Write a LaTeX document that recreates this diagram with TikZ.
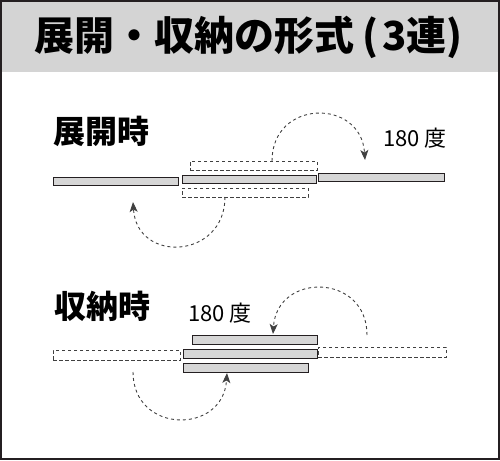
\documentclass[tikz,border=0pt]{standalone}
\usepackage{fontspec}
\setmainfont{Noto Sans CJK JP}
\usetikzlibrary{arrows.meta}
\newlength{\du}
\setlength{\du}{1pt}
\definecolor{framecolor}{rgb}{0.14, 0.12, 0.13}
\definecolor{bandcolor}{rgb}{0.83, 0.83, 0.83}
\definecolor{panelcolor}{rgb}{0.84, 0.84, 0.84}
\definecolor{dashcolor}{rgb}{0.25, 0.25, 0.25}
\tikzset{
  panel/.style={draw=framecolor, fill=panelcolor, line width=1pt, inner sep=0pt},
  ghost/.style={draw=dashcolor, line width=0.9pt, dash pattern=on 3.5pt off 2.5pt, inner sep=0pt},
  turn/.style={draw=dashcolor, line width=0.9pt, dash pattern=on 3pt off 3pt, -{Stealth[length=10pt, width=8pt, inset=2.5pt]}},
  headline/.style={font=\bfseries\fontsize{40pt}{42pt}\selectfont, inner sep=0pt},
  caption/.style={font=\bfseries\fontsize{32pt}{34pt}\selectfont},
  degree/.style={font=\fontsize{22pt}{24pt}\selectfont},
}
\begin{document}
\begin{tikzpicture}
\useasboundingbox (0\du,0\du) rectangle (500\du,-460\du);
% title band and frame
\fill[bandcolor] (0\du,0\du) rectangle (500\du,-72\du);
\draw[framecolor, line width=1.6pt] (0.8\du,-0.8\du) rectangle (499.2\du,-459.2\du);
\node[headline, anchor=west] (title) at (34\du,-37\du) {展開・収納の形式\hspace{0.2em}(\hspace{0.1em}3連)};
% deployed
\node[caption] (opencap) at (101\du,-131\du) {展開時};
\node[degree] (opendeg) at (415\du,-138\du) {180\hspace{0.2em}度};
\node[panel, minimum width=125\du, minimum height=8\du] (openL) at (115.5\du,-181\du) {};
\node[panel, minimum width=134\du, minimum height=8\du] (openM) at (249\du,-179\du) {};
\node[panel, minimum width=126\du, minimum height=8\du] (openR) at (381\du,-177\du) {};
\node[ghost, minimum width=127\du, minimum height=9\du] (openUp) at (253.5\du,-165.5\du) {};
\node[ghost, minimum width=126\du, minimum height=9\du] (openDn) at (245\du,-192.5\du) {};
\coordinate (openUpFrom) at (272\du,-161\du);
\coordinate (openUpTo) at (365\du,-160\du);
\coordinate (openDnFrom) at (225\du,-197\du);
\coordinate (openDnTo) at (133\du,-202\du);
\draw[turn] (openUpFrom) .. controls +(0pt,62pt) and +(-4pt,62pt) .. (openUpTo);
\draw[turn] (openDnFrom) .. controls +(0pt,-62pt) and +(4pt,-62pt) .. (openDnTo);
% stowed
\node[caption] (shutcap) at (102\du,-306\du) {収納時};
\node[degree] (shutdeg) at (220\du,-313\du) {180\hspace{0.2em}度};
\node[panel, minimum width=125\du, minimum height=9\du] (shutT) at (254.5\du,-339.5\du) {};
\node[panel, minimum width=134\du, minimum height=9\du] (shutM) at (250\du,-353.5\du) {};
\node[panel, minimum width=125\du, minimum height=9\du] (shutB) at (245.5\du,-367.5\du) {};
\node[ghost, minimum width=127\du, minimum height=10\du] (shutL) at (116.5\du,-355\du) {};
\node[ghost, minimum width=128\du, minimum height=10\du] (shutR) at (382\du,-352\du) {};
\coordinate (shutUpFrom) at (367\du,-335\du);
\coordinate (shutUpTo) at (273\du,-334\du);
\coordinate (shutDnFrom) at (133\du,-372\du);
\coordinate (shutDnTo) at (227\du,-373\du);
\draw[turn] (shutUpFrom) .. controls +(0pt,62pt) and +(4pt,62pt) .. (shutUpTo);
\draw[turn] (shutDnFrom) .. controls +(0pt,-62pt) and +(-4pt,-62pt) .. (shutDnTo);
\end{tikzpicture}
\end{document}
